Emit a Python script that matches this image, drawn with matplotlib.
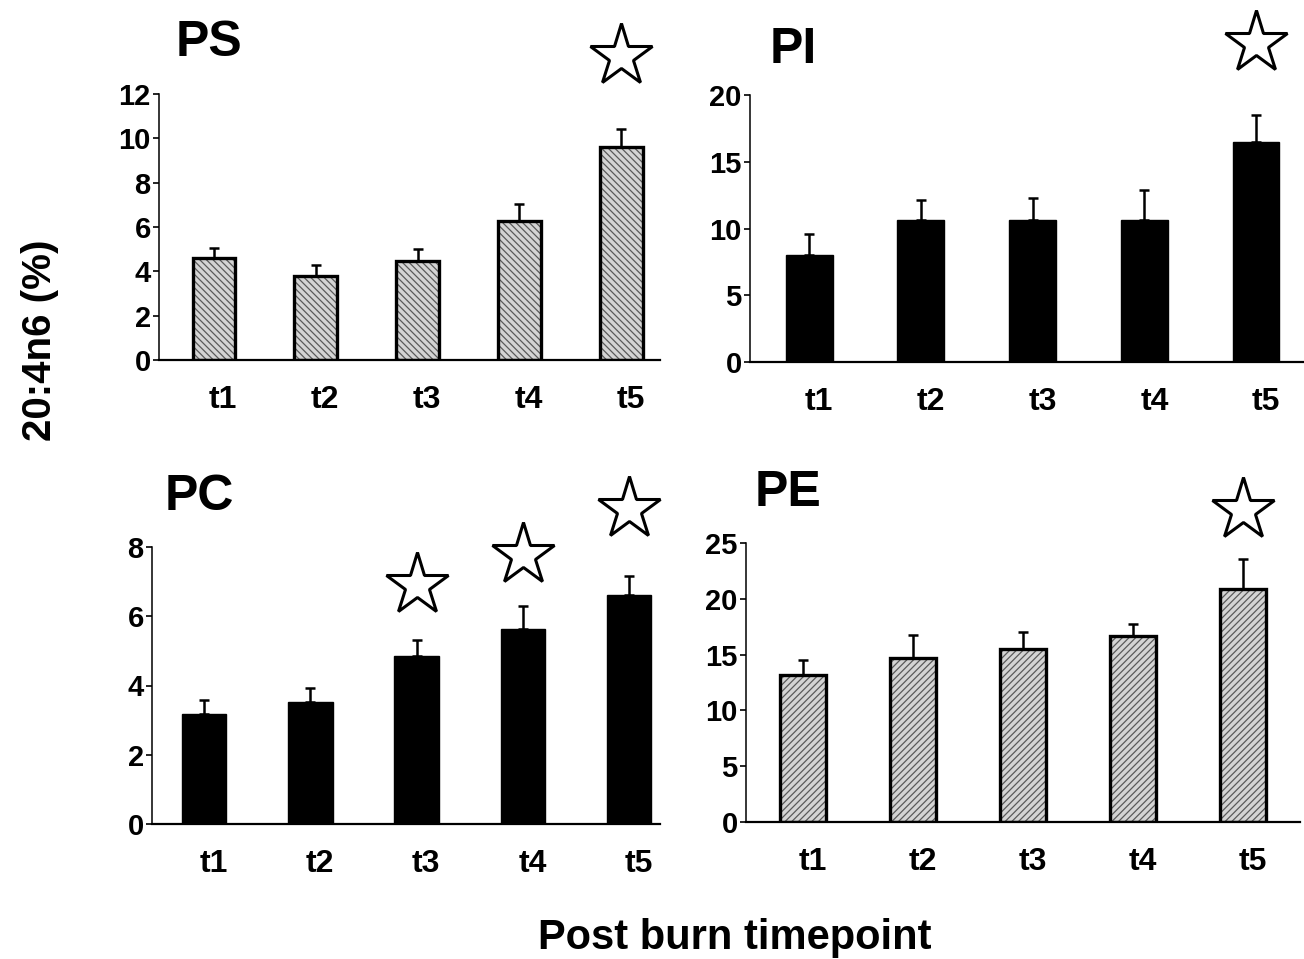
import matplotlib
matplotlib.use('Agg')
import matplotlib.pyplot as plt
import numpy as np

plt.rcParams['font.family'] = ['Liberation Sans', 'DejaVu Sans']
plt.rcParams['font.weight'] = 'bold'
plt.rcParams['hatch.linewidth'] = 0.9

# data
timepoints = ['t1', 't2', 't3', 't4', 't5']

ps_mean = [4.6, 3.8, 4.45, 6.27, 9.6]
ps_err = [0.45, 0.47, 0.55, 0.78, 0.8]
ps_stars = [13.7]          # star height (data units) above t5

pi_mean = [8.0, 10.6, 10.6, 10.6, 16.5]
pi_err = [1.6, 1.5, 1.7, 2.3, 2.0]
pi_stars = [23.9]

pc_mean = [3.18, 3.53, 4.86, 5.64, 6.62]
pc_err = [0.4, 0.4, 0.46, 0.66, 0.55]
pc_stars = [6.9, 7.77, 9.1]  # above t3, t4, t5

pe_mean = [13.2, 14.7, 15.5, 16.7, 20.9]
pe_err = [1.3, 2.1, 1.5, 1.0, 2.7]
pe_stars = [28.0]

W, H = 1304, 959
fig = plt.figure(figsize=(W / 100, H / 100), dpi=100)


def px_axes(left, right, top, bottom):
    return fig.add_axes([left / W, (H - bottom) / H, (right - left) / W, (bottom - top) / H])


def panel(ax, title, mean, err, ymax, step, style, star_idx, star_y, xlim, tx, ty):
    x = np.arange(len(timepoints))
    if style == 'black':
        ax.bar(x, mean, width=0.42, color='black', edgecolor='black', lw=1, zorder=2)
    else:
        ax.bar(x, mean, width=0.42, color='#d4d4d4', edgecolor='#5a5a5a',
               hatch=style, lw=0, zorder=2)
        ax.bar(x, mean, width=0.42, fill=False, edgecolor='black', lw=2.4, zorder=3)
    ax.errorbar(x, mean, yerr=[np.zeros(len(err)), err], fmt='none',
                ecolor='black', elinewidth=1.8, capsize=3.5, capthick=1.8, zorder=1)
    ax.plot(star_idx, star_y, ls='none', marker='*', ms=47, mfc='white',
            mec='black', mew=2.2, clip_on=False, zorder=5)

    ax.set_xlim(xlim)
    ax.set_ylim(0, ymax)
    ax.set_yticks(np.arange(0, ymax + 0.1, step))
    ax.set_xticks(x + 0.09)
    ax.set_xticklabels(timepoints)
    ax.tick_params(axis='x', length=0, pad=18, labelsize=23)
    ax.tick_params(axis='y', direction='out', length=4, width=1.2, pad=2, labelsize=21)
    for lab in ax.get_xticklabels() + ax.get_yticklabels():
        lab.set_fontweight('bold')
    ax.spines['top'].set_visible(False)
    ax.spines['right'].set_visible(False)
    ax.spines['left'].set_linewidth(1.1)
    ax.spines['left'].set_linestyle((0, (3, 1)))
    ax.spines['bottom'].set_linewidth(1.6)
    ax.text(tx, ty, title, transform=ax.transAxes, fontsize=36, fontweight='bold',
            ha='left', va='center')


ax1 = px_axes(159, 660, 94, 360)
panel(ax1, 'PS', ps_mean, ps_err, 12, 2, '\\\\\\\\\\', [4], ps_stars,
      (-0.54, 4.38), 0.033, 1.19)

ax2 = px_axes(750, 1304, 95, 362)
panel(ax2, 'PI', pi_mean, pi_err, 20, 5, 'black', [4], pi_stars,
      (-0.53, 4.43), 0.035, 1.17)

ax3 = px_axes(152, 660, 547, 824)
panel(ax3, 'PC', pc_mean, pc_err, 8, 2, 'black', [2, 3, 4], pc_stars,
      (-0.49, 4.29), 0.025, 1.18)

ax4 = px_axes(746, 1300, 543, 822)
panel(ax4, 'PE', pe_mean, pe_err, 25, 5, '/////', [4], pe_stars,
      (-0.52, 4.52), 0.015, 1.18)

fig.text(40 / W, 1 - 340 / H, '20:4n6 (%)', rotation=90, fontsize=29,
         fontweight='bold', ha='center', va='center')
fig.text(735 / W, 1 - 938 / H, 'Post burn timepoint', fontsize=30,
         fontweight='bold', ha='center', va='center')

fig.savefig('out.png', dpi=100)
